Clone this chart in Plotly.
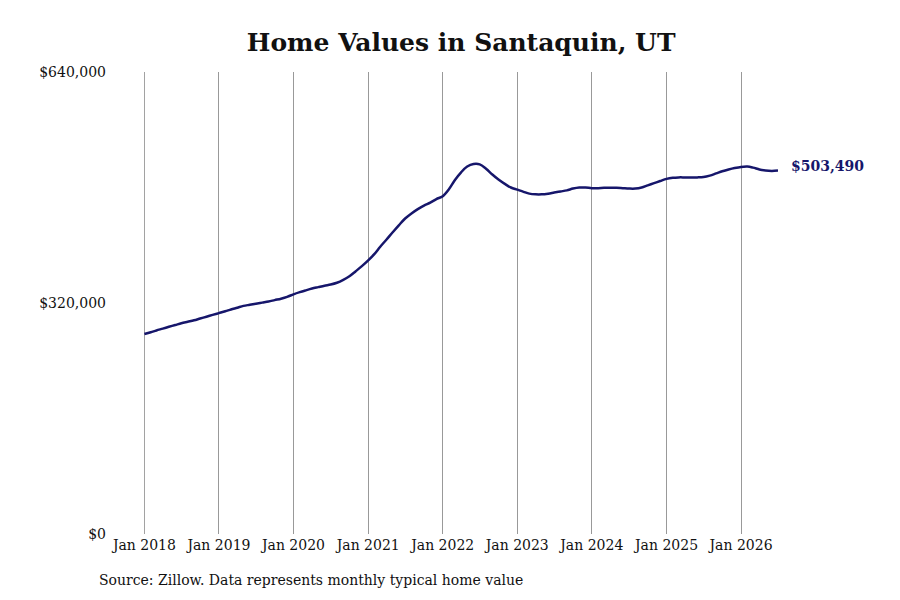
import pandas as pd
import plotly.graph_objects as go

# monthly typical home value, Jan 2018 - Jul 2026 (in $)
months = pd.date_range('2018-01-01', '2026-07-01', freq='MS')
values = [
    277000, 279500, 282000, 284500, 287000, 289500, 292000, 294000, 296000, 298500, 301000, 303500,  # 2018
    306000, 308500, 311000, 313500, 316000, 317500, 319000, 320500, 322000, 324000, 326000, 328500,  # 2019
    332000, 335000, 337500, 340000, 342000, 344000, 345500, 348000, 352000, 357000, 364000, 371000,  # 2020
    379000, 388000, 398000, 408000, 418000, 428000, 437000, 444000, 450000, 455000, 459000, 464000,  # 2021
    468000, 478000, 490000, 501000, 509000, 512500, 512000, 506000, 498000, 491000, 485000, 480000,  # 2022
    477000, 474000, 471500, 470500, 470500, 471500, 473000, 474500, 476000, 478500, 480000, 480000,  # 2023
    479000, 479000, 479500, 479500, 479500, 479000, 478500, 478500, 480000, 483000, 486000, 489000,  # 2024
    492000, 493500, 494000, 494000, 494000, 494000, 494500, 496500, 499500, 502500, 505000, 507000,  # 2025
    508500, 509000, 507500, 505000, 503500, 503000, 503490,                                          # 2026
]
x_ticks = pd.date_range('2018-01-01', '2026-01-01', freq='YS')
y_ticks = [0, 320000, 640000]
y_labels = ['$0', '$320,000', '$640,000']

navy = '#16166b'
font = 'DejaVu Serif'

fig = go.Figure()
fig.add_trace(go.Scatter(
    x=months,
    y=values,
    mode='lines',
    line=dict(color=navy, width=2.5, shape='spline'),
    hoverinfo='skip',
))

# plotly drops the grid line sitting on the left edge, so draw it by hand
fig.add_vline(x=x_ticks[0], line_color='#999', line_width=1, layer='below')

# last value label to the right of the line
fig.add_annotation(
    x=1, xref='paper', y=values[-1], yref='y',
    text=f'<b>${values[-1]:,}</b>',
    showarrow=False, xanchor='left', xshift=11, yshift=5,
    font=dict(family=font, size=14, color=navy),
)

fig.add_annotation(
    x=-0.074, xref='paper', y=-0.10, yref='paper',
    text='Source: Zillow. Data represents monthly typical home value',
    showarrow=False, xanchor='left', yanchor='middle',
    font=dict(family=font, size=14, color='#111'),
)

fig.update_layout(
    width=900, height=600,
    paper_bgcolor='white', plot_bgcolor='white',
    margin=dict(l=136, r=130, t=64, b=74),
    showlegend=False,
    title=dict(
        text='<b>Home Values in Santaquin, UT</b>',
        x=0.5035, xanchor='center', y=0.943, yanchor='middle',
        font=dict(family=font, size=25, color='#111'),
    ),
    font=dict(family=font, size=14, color='#111'),
    xaxis=dict(
        range=['2017-12-30', months[-1]],
        tickvals=x_ticks,
        tickformat='%b %Y',
        showgrid=True, gridcolor='#999', gridwidth=1,
        zeroline=False, showline=False, ticks='',
        ticklabelstandoff=1,
    ),
    yaxis=dict(
        range=[0, 640000],
        tickvals=y_ticks, ticktext=y_labels,
        showgrid=False, zeroline=False, showline=False, ticks='',
        ticklabelstandoff=37,
    ),
)

fig.write_html('out.html')
